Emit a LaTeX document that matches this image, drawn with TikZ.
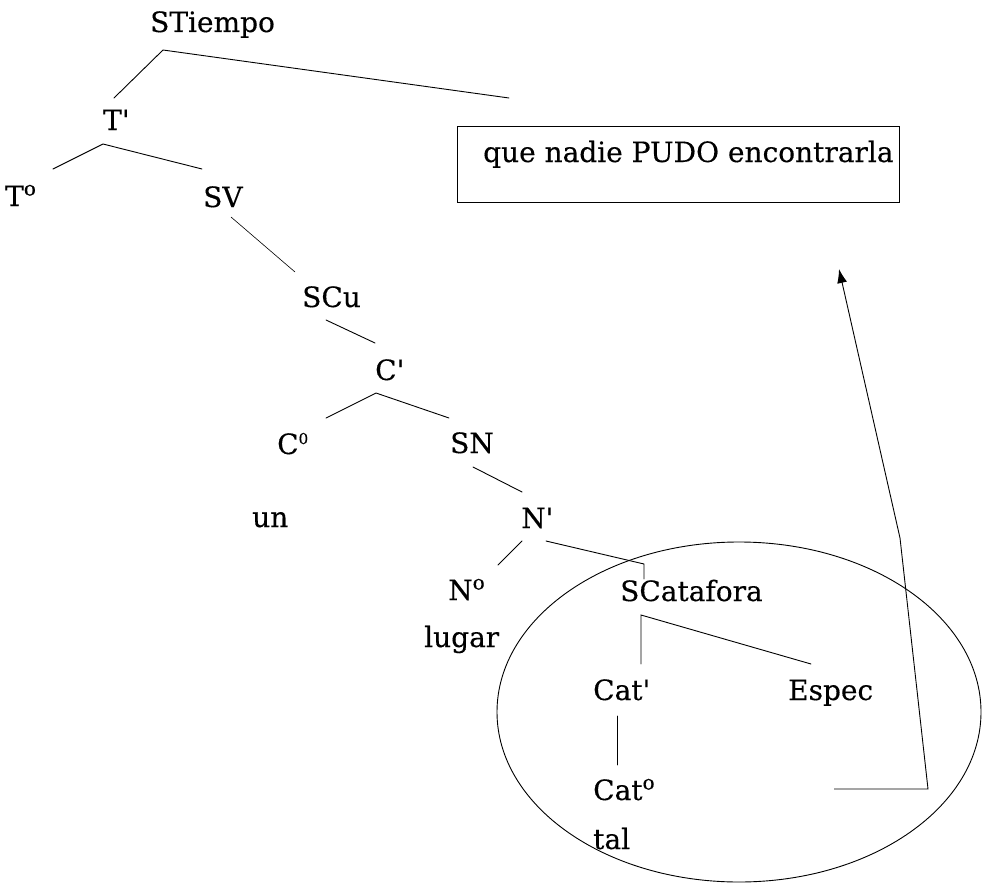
\documentclass[tikz,border=0pt]{standalone}
\usepackage{fontspec}
\setmainfont{DejaVu Serif}[FakeBold=0.35]
\usetikzlibrary{arrows.meta}
\newcommand{\pr}{\textquotesingle}
\newcommand{\supo}{\raisebox{10.5pt}{\fontsize{20}{20}\selectfont o}}
\newcommand{\supz}{\raisebox{10pt}{\fontsize{15}{16}\selectfont 0}}
\begin{document}
\begin{tikzpicture}[x=1pt,y=-1pt,
  lbl/.style={anchor=base west,inner sep=0pt,font=\fontsize{28}{32}\selectfont},
  branch/.style={line width=0.9pt,line cap=round},
  faint/.style={line width=0.6pt,line cap=round},
  boxline/.style={line width=0.9pt}]
\useasboundingbox (0,0) rectangle (988,883);
% labels
\node[lbl] (st) at (150,32) {STiempo};
\node[lbl] (tb) at (103,130) {T\pr};
\node[lbl] (t0) at (5,206) {T\supo};
\node[lbl] (sv) at (203,207) {SV};
\node[lbl] (scu) at (302,307) {SCu};
\node[lbl] (cb) at (375,380) {C\pr};
\node[lbl] (c0) at (277,454) {C\supz};
\node[lbl] (sn) at (450,453) {SN};
\node[lbl] (un) at (252,527) {un};
\node[lbl] (nb) at (521,528) {N\pr};
\node[lbl] (n0) at (448,600) {N\supo};
\node[lbl] (lugar) at (424,647) {lugar};
\node[lbl] (scat) at (620,601) {SCatafora};
\node[lbl] (catb) at (593,700) {Cat\pr};
\node[lbl] (espec) at (788,700) {Espec};
\node[lbl] (cat0) at (593,800) {Cat\supo};
\node[lbl] (tal) at (593,849) {tal};
% boxed clause
\node[boxline,draw,anchor=north west,minimum width=442pt,minimum height=76pt,inner sep=0pt] (box) at (457,126) {};
\node[lbl] (que) at (483,162) {que nadie PUDO encontrarla};
% branch end points
\coordinate (stA) at (163,50);
\coordinate (stL) at (114,98);
\coordinate (stR) at (509,98);
\coordinate (tA) at (103,144);
\coordinate (tL) at (53,169);
\coordinate (tR) at (202,169);
\coordinate (svA) at (231,217);
\coordinate (svB) at (295,272);
\coordinate (scuA) at (326,320);
\coordinate (scuB) at (375,343);
\coordinate (cA) at (376,393);
\coordinate (cL) at (326,418);
\coordinate (cR) at (449,418);
\coordinate (snA) at (473,467);
\coordinate (snB) at (522,492);
\coordinate (nL0) at (522,541);
\coordinate (nL1) at (498,565);
\coordinate (nR0) at (546,541);
\coordinate (nR1) at (644,564);
\coordinate (nR2) at (644,579);
\coordinate (scA) at (641,615);
\coordinate (scL) at (641,664);
\coordinate (scR) at (811,664);
\coordinate (catA) at (617,716);
\coordinate (catB) at (617,765);
\coordinate (arS) at (834,789);
\coordinate (arC) at (928,789);
\coordinate (arM) at (900,538);
\coordinate (arT) at (839,269);
% tree
\draw[branch] (stL) -- (stA) -- (stR);
\draw[branch] (tL) -- (tA) -- (tR);
\draw[faint] (svA) -- (svB);
\draw[branch] (scuA) -- (scuB);
\draw[branch] (cL) -- (cA) -- (cR);
\draw[branch] (snA) -- (snB);
\draw[branch] (nL0) -- (nL1);
\draw[branch] (nR0) -- (nR1) -- (nR2);
\draw[branch] (scL) -- (scA) -- (scR);
\draw[branch] (catA) -- (catB);
% ellipse
\draw[line width=0.9pt] (739,712) ellipse [x radius=242pt, y radius=170pt];
% arrow
\draw[line width=0.9pt,-{Latex[length=14pt,width=10pt]}] (arS) -- (arC) -- (arM) -- (arT);
\end{tikzpicture}
\end{document}
